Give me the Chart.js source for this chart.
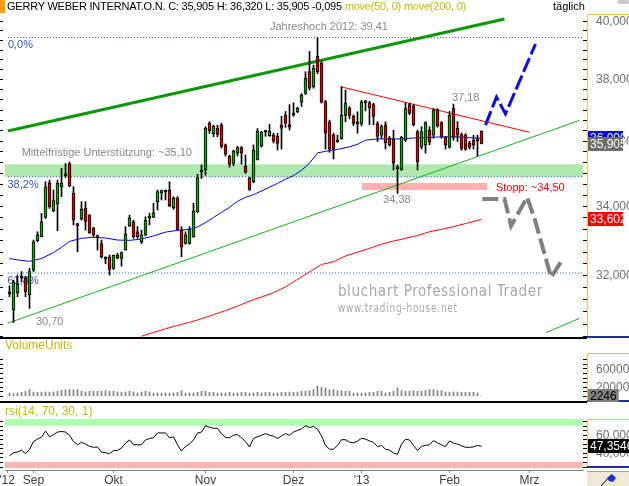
<!DOCTYPE html>
<html>
<head>
<meta charset="utf-8">
<script src="https://cdn.jsdelivr.net/npm/chart.js@4.4.1/dist/chart.umd.min.js"></script>
<style>
  html, body { margin: 0; padding: 0; background: #fff; }
  #wrap { position: relative; width: 629px; height: 486px; overflow: hidden; background: #fff;
          font-family: "Liberation Sans", Arial, sans-serif; }
  canvas { position: absolute; left: 0; }
  .txt { position: absolute; white-space: nowrap; font-size: 11px; line-height: 13px; color: #000; }
  .head { letter-spacing: -0.22px; }
  .olive { color: #bdbd00; }
  .sep { position: absolute; left: 0; width: 587px; height: 2px; background: #000; }
</style>
</head>
<body>
<div id="wrap">
  <canvas id="mainChart" width="629" height="338" style="top:0"></canvas>
  <canvas id="volChart" width="629" height="64" style="top:338px"></canvas>
  <canvas id="rsiChart" width="629" height="84" style="top:402px"></canvas>

  <div style="position:absolute;left:0;top:0;width:5px;height:13px;background:#ff9c00"></div>
  <div class="txt head" style="left:7px;top:0">GERRY WEBER INTERNAT.O.N. C: 35,905 H: 36,320 L: 35,905 -0,095 <span class="olive">move(50, 0) move(200, 0)</span></div>
  <div class="txt" style="left:553px;top:0">täglich</div>
  <div style="position:absolute;left:617px;top:0;width:12px;height:4px;background:#c8c8c8;border-radius:2px"></div>

  <div class="sep" style="top:337px"></div>
  <div class="sep" style="top:401px"></div>
  <div class="txt olive" style="left:5px;top:339px;font-size:12px">VolumeUnits</div>
  <div class="txt olive" style="left:5px;top:405px;font-size:12px">rsi(14, 70, 30, 1)</div>

  <div style="position:absolute;left:587px;top:471px;width:42px;height:15px;background:#ece9d8;border-top:1px solid #a0a0a0">
    <svg width="42" height="15"><line x1="14" y1="14" x2="24" y2="3" stroke="#000" stroke-width="1"/><polygon points="20,6 25,2 29,6 26,10 22,9" fill="#1030e0"/></svg>
  </div>
</div>

<script>
// ---- price data (one entry per trading day, 24 Aug 2012 .. 13 Feb 2013) ----
const OPEN = [31.48,31.04,31.51,31.92,31.91,31.45,32.14,32.98,33.09,33.66,
  34.70,33.86,34.06,34.58,34.92,35.29,34.38,33.46,33.62,33.93,
  33.72,33.34,33.10,32.90,32.45,32.52,32.19,32.57,32.47,32.71,
  33.42,33.53,33.24,32.95,33.15,33.64,33.66,34.13,34.40,34.42,
  34.48,33.95,34.23,33.29,32.90,32.90,33.10,33.83,35.03,35.09,
  36.56,36.23,36.40,36.51,35.87,35.52,35.29,35.61,35.79,35.20,
  34.85,34.73,35.40,35.84,36.28,36.16,36.18,36.15,36.50,36.81,
  36.52,36.82,36.93,37.24,37.53,38.25,37.75,38.77,38.53,37.26,
  36.59,36.18,35.97,36.07,36.81,37.04,36.78,36.54,36.55,37.22,
  37.22,37.16,36.55,36.18,36.51,36.08,36.05,35.13,35.11,36.02,
  37.16,37.12,36.29,35.80,35.87,36.34,36.18,36.99,36.58,36.11,
  35.80,37.03,36.40,36.20,36.18,35.93,36.02,36.04,36.30];
const HIGH = [31.70,31.86,32.00,32.10,31.96,32.19,33.00,33.24,33.78,34.73,
  34.78,34.48,34.78,35.14,35.29,35.34,34.58,33.49,34.13,34.13,
  33.75,33.37,33.15,33.00,32.52,32.57,32.57,32.62,32.66,33.39,
  33.73,33.58,33.39,33.29,33.68,33.78,34.08,34.48,34.48,34.48,
  34.73,34.28,34.28,33.39,33.24,33.39,34.08,34.96,35.25,36.45,
  36.61,36.50,36.50,36.56,35.90,35.55,35.71,35.83,35.82,35.56,
  34.87,35.87,36.39,36.30,36.32,36.52,36.24,36.24,36.78,36.94,
  37.16,37.22,37.08,37.52,38.25,38.94,38.47,39.41,38.60,37.30,
  36.66,36.24,36.18,37.75,37.64,37.10,36.83,36.93,37.30,37.30,
  37.27,37.21,36.61,36.51,36.61,36.14,36.34,35.24,36.14,37.22,
  37.21,37.16,36.34,36.45,36.61,36.45,37.03,37.03,36.61,36.14,
  36.94,37.18,36.61,36.25,36.23,35.99,36.18,36.18,36.32];
const LOW = [31.40,30.70,31.40,31.81,31.40,31.08,32.10,32.95,33.09,33.63,
  33.93,33.83,33.27,34.28,34.86,34.58,33.44,32.66,33.58,33.29,
  33.19,33.10,32.71,32.48,32.32,32.00,32.16,32.46,32.25,32.71,
  33.39,33.05,33.05,32.90,33.12,33.44,33.66,33.88,34.18,34.18,
  33.98,33.90,33.29,32.52,32.88,32.88,33.08,33.80,34.83,34.93,
  36.23,36.13,36.13,35.77,35.52,35.18,35.22,35.52,35.27,34.99,
  34.47,34.70,35.40,35.80,36.14,36.14,35.93,35.71,35.74,36.43,
  36.34,36.78,36.90,37.10,37.49,37.64,37.70,38.18,37.21,35.74,
  35.64,35.43,35.95,36.05,36.61,36.70,36.48,36.24,36.48,36.96,
  36.51,36.51,35.98,36.08,35.74,35.83,35.09,34.38,35.08,35.98,
  36.83,36.47,35.09,35.74,35.61,35.87,36.08,36.43,36.08,35.74,
  35.77,36.02,35.98,35.70,35.70,35.74,35.74,35.52,35.905];
const CLOSE = [31.50,31.81,31.75,31.95,31.54,32.10,32.95,33.15,33.53,34.58,
  33.98,34.16,34.68,34.70,34.95,34.60,33.58,33.42,33.90,33.54,
  33.21,33.15,33.07,32.52,32.47,32.16,32.57,32.49,32.64,33.17,
  33.65,33.10,33.10,33.15,33.58,33.67,33.80,34.43,34.42,34.44,
  34.00,34.23,33.31,32.80,33.15,33.31,33.85,34.86,35.05,36.40,
  36.32,36.47,36.20,35.82,35.58,35.27,35.67,35.79,35.61,35.02,
  34.50,35.71,36.31,36.27,36.30,36.31,35.99,35.92,36.39,36.55,
  36.43,36.84,37.04,37.48,38.03,37.70,38.36,38.25,37.24,36.24,
  35.74,35.74,36.02,36.81,37.22,36.81,36.55,36.57,37.24,37.25,
  37.06,36.78,36.14,36.45,35.93,35.87,35.30,35.15,36.11,37.03,
  36.88,36.51,35.35,36.29,36.58,35.96,36.99,36.47,36.14,35.87,
  36.81,36.11,36.18,35.76,35.74,35.80,35.87,36.00,35.905];

const VOLUME = [65000,51000,65000,80000,101000,138000,87000,80000,87000,87000,
  87000,87000,101000,123000,138000,138000,138000,138000,101000,87000,
  101000,101000,101000,101000,116000,101000,101000,87000,87000,87000,
  101000,87000,65000,87000,101000,87000,65000,65000,65000,65000,
  65000,65000,80000,116000,65000,65000,65000,80000,101000,101000,
  80000,80000,65000,65000,65000,80000,65000,65000,80000,80000,
  65000,65000,80000,65000,80000,80000,65000,65000,80000,80000,
  87000,80000,87000,101000,101000,116000,138000,220000,188000,174000,
  138000,138000,116000,116000,101000,101000,65000,65000,65000,65000,
  80000,80000,101000,101000,65000,80000,101000,174000,116000,101000,
  101000,116000,101000,101000,116000,138000,138000,116000,116000,87000,
  87000,87000,87000,80000,80000,80000,80000,65000,2246];

const RSI = [36.8,40.3,41.0,43.1,39.2,43.8,52.5,55.3,57.4,64.1,
  57.8,60.2,63.0,63.7,63.0,59.5,52.5,49.0,51.8,49.7,
  47.3,46.2,46.6,41.0,40.3,39.2,42.7,42.7,45.5,50.8,
  54.3,49.0,49.0,49.0,54.3,56.0,56.7,62.0,62.0,62.0,
  56.7,57.8,49.0,42.0,47.3,49.7,54.3,62.0,63.0,70.0,
  68.3,67.2,67.2,61.3,57.1,56.7,59.5,60.2,56.7,52.5,
  46.6,56.0,57.8,59.5,61.3,59.5,58.5,56.0,58.8,61.3,
  59.5,63.0,64.8,66.5,70.0,68.0,69.2,66.2,59.0,48.3,
  44.1,44.1,48.3,54.6,54.6,51.8,51.1,53.2,56.0,55.3,
  53.2,51.8,46.9,48.3,44.1,43.1,39.9,38.5,49.7,55.0,
  54.3,48.3,42.7,47.3,48.3,49.0,53.6,51.1,49.0,46.9,
  53.2,50.8,49.7,48.0,46.2,46.2,46.6,48.3,47.3546];

// moving averages, read as [day index, value]
const MA50 = [[0,32.47],[2,32.43],[5,32.39],[8,32.47],[11,32.64],[13,32.79],[15,32.96],[18,33.05],
  [21,33.08],[24,33.06],[27,33.00],[30,32.99],[33,33.03],[36,33.12],[39,33.23],[42,33.28],[45,33.31],
  [47,33.38],[49,33.51],[51,33.66],[53,33.81],[55,33.96],[57,34.14],[59,34.26],[61,34.34],[63,34.45],
  [65,34.57],[67,34.68],[69,34.81],[71,34.92],[73,35.08],[75,35.30],[77,35.62],[79,35.67],[82,35.73],
  [85,35.81],[87,35.89],[89,36.02],[92,36.06],[95,36.06],[98,36.06],[101,36.09],[104,36.10],
  [107,36.12],[110,36.13],[113,36.12],[116,36.09],[118,36.09]];
const MA200 = [[33,30.33],[36,30.43],[39,30.53],[42,30.62],[45,30.70],[48,30.80],[51,30.91],[54,31.02],
  [57,31.14],[60,31.28],[63,31.39],[66,31.51],[69,31.67],[72,31.88],[75,32.09],[78,32.30],[81,32.38],
  [84,32.54],[87,32.65],[90,32.76],[93,32.88],[96,32.97],[99,33.05],[102,33.13],[105,33.24],
  [108,33.31],[111,33.39],[114,33.48],[118,33.602]];

// drawn lines: channel, resistance, forecasts ([day index, value])
const UPPER_CHANNEL = [[-0.4,36.31],[123.75,40.06]];
const LOWER_CHANNEL = [[-0.4,30.68],[142.5,36.65]];
const LOWER_CHANNEL_2 = [[134.2,30.43],[142.5,30.81]];
const RESISTANCE = [[82.75,37.75],[130,36.27]];
const FORECAST_UP = [[119,36.50],[121.75,37.41],[124,36.86],[131.5,39.19]];
const FORECAST_DOWN = [[118.2,34.21],[123.75,34.21],[125.4,33.41],[129.4,34.26],[131.25,33.63],[135.4,31.94],[138.2,32.43]];

const FIB_LEVELS = [39.41, 34.88, 32.06];
const SUPPORT_BAND = [34.88, 35.27];
const STOP_BAND = [34.48, 34.69];
const STOP_BAND_DAYS = [88, 119.5];
const RSI_ZONES = { high: [70, 77.4], low: [23.4, 30] };

const MONTH_TICKS = [-0.6, 6, 26, 49, 71, 88, 110, 130];
const MONTH_LABELS = ["'12", "Sep", "Okt", "Nov", "Dez", "'13", "Feb", "Mrz"];
const PRICE_LABELS = [40, 38, 36, 34, 32];
const VOLUME_LABELS = [600000, 200000];
const RSI_LABELS = [60, 40];

const ANNOTATIONS = [
  { text: 'Jahreshoch 2012: 39,41', i: 65.1, v: 39.78, kind: 'note' },
  { text: '0,0%', i: -0.4, v: 39.16, kind: 'fib' },
  { text: '37,18', i: 110.6, v: 37.38, kind: 'note' },
  { text: 'Mittelfristige Unterstützung: ~35,10', i: 3.05, v: 35.62, kind: 'note' },
  { text: '38,2%', i: -0.5, v: 34.63, kind: 'fib' },
  { text: '61,8%', i: -0.5, v: 31.83, kind: 'fib' },
  { text: '30,70', i: 6.6, v: 30.71, kind: 'note' },
  { text: '34,38', i: 93.4, v: 34.18, kind: 'note' },
  { text: 'Stopp: ~34,50', i: 121.6, v: 34.53, kind: 'stop' },
  { text: 'bluchart Professional Trader', i: 82.1, v: 31.54, kind: 'brand' },
  { text: 'www.trading-house.net', i: 82.1, v: 31.08, kind: 'url' },
];

// ---- helpers ----
const X_MIN = -1.125, X_MAX = 143.375;
const FONT = '"Liberation Sans", Arial, sans-serif';
const days = OPEN.map((_, i) => i);
const pts = arr => arr.map(([x, y]) => ({ x, y }));
const hline = (v, a, b) => [{ x: a, y: v }, { x: b, y: v }];
const fmt = (v, d) => v.toFixed(d).replace('.', ',');
const last = arr => arr[arr.length - 1];

const ANN_STYLE = {
  note:  { font: '11px ' + FONT, color: '#888888' },
  fib:   { font: '11px ' + FONT, color: '#3050c8' },
  stop:  { font: '11px ' + FONT, color: '#ff0000' },
  brand: { font: '16px "DejaVu Sans Condensed", "DejaVu Sans", sans-serif', color: '#a8a8a8', maxWidth: 205, spacing: '0.6px' },
  url:   { font: '12px "DejaVu Sans Condensed", "DejaVu Sans", sans-serif', color: '#a8a8a8', maxWidth: 120, spacing: '1px' },
};

function lineSet(data, color, width, extra) {
  return Object.assign({
    type: 'line', data, borderColor: color, borderWidth: width,
    pointRadius: 0, tension: 0, fill: false, order: 10
  }, extra || {});
}

function axisPlugin(id, cfg) {
  return {
    id,
    afterDraw(chart) {
      const { ctx, chartArea: a } = chart;
      const y = chart.scales.y;
      const ax = a.right + 4;
      const top = a.top + cfg.boxTop, bottom = a.bottom + cfg.boxBottom;
      ctx.save();
      ctx.fillStyle = '#f2c445';
      ctx.fillRect(ax, top, 1, bottom - top);
      ctx.fillRect(ax, top, chart.width - ax, 1);
      ctx.fillStyle = '#1a2f9c';
      ctx.fillRect(ax, bottom - 1, chart.width - ax, 2);
      ctx.fillStyle = '#000';
      cfg.ticks.forEach(v => {
        const py = Math.round(y.getPixelForValue(v));
        if (py < a.top || py > a.bottom) return;
        ctx.fillRect(ax - 4, py, 4, 1);
        ctx.fillRect(0, py, 3, 1);
      });
      ctx.font = '12px ' + FONT;
      ctx.textBaseline = 'middle';
      ctx.fillStyle = '#6e6e6e';
      cfg.labels.forEach(v => ctx.fillText(cfg.fmt(v), ax + 9, y.getPixelForValue(v) + 1));
      cfg.boxes.forEach(b => {
        const py = Math.round(y.getPixelForValue(b.v));
        const w = b.w || ctx.measureText(b.text).width + 4;
        ctx.fillStyle = b.bg;
        ctx.fillRect(ax + 1, py - 7, w, 14);
        ctx.fillStyle = b.fg;
        ctx.fillText(b.text, ax + 3, py + 1);
      });
      ctx.restore();
    }
  };
}

const annotationPlugin = {
  id: 'annotations',
  beforeDatasetsDraw(chart) {
    const { ctx } = chart;
    const xs = chart.scales.x, ys = chart.scales.y;
    ctx.save();
    ctx.textBaseline = 'middle';
    ANNOTATIONS.forEach(an => {
      const st = ANN_STYLE[an.kind];
      ctx.font = st.font;
      ctx.fillStyle = st.color;
      ctx.letterSpacing = st.spacing || '0px';
      const px = xs.getPixelForValue(an.i), py = ys.getPixelForValue(an.v);
      if (st.maxWidth) ctx.fillText(an.text, px, py, st.maxWidth);
      else ctx.fillText(an.text, px, py);
    });
    ctx.restore();
  }
};

const baseOptions = (padding) => ({
  responsive: false,
  animation: false,
  devicePixelRatio: 1,
  events: [],
  layout: { padding },
  plugins: { legend: { display: false }, tooltip: { enabled: false } },
});

// ---- main price chart ----
const candleColor = days.map(i => CLOSE[i] >= OPEN[i] ? '#10a810' : '#e00000');
const priceTicks = Array.from({ length: 31 }, (_, k) => (91 + k) / 3);

new Chart(document.getElementById('mainChart'), {
  type: 'bar',
  data: {
    datasets: [
      lineSet(hline(SUPPORT_BAND[1], X_MIN, X_MAX), 'rgba(0,0,0,0)', 0,
        { fill: { value: SUPPORT_BAND[0] }, backgroundColor: '#aee8ae', order: 30 }),
      lineSet(hline(STOP_BAND[1], STOP_BAND_DAYS[0], STOP_BAND_DAYS[1]), 'rgba(0,0,0,0)', 0,
        { fill: { value: STOP_BAND[0] }, backgroundColor: '#ffb0b0', order: 30 }),
      ...FIB_LEVELS.map(v => lineSet(hline(v, -0.4, X_MAX), '#2848c8', 1, { borderDash: [1, 2], order: 25 })),
      lineSet(pts(UPPER_CHANNEL), '#0a980a', 3, { order: 20 }),
      lineSet(pts(LOWER_CHANNEL), '#10b810', 1, { order: 20 }),
      lineSet(pts(LOWER_CHANNEL_2), '#10b810', 1, { order: 20 }),
      lineSet(pts(RESISTANCE), '#ff0000', 1, { order: 20 }),
      lineSet(pts(MA200), '#ff0000', 1, { order: 15 }),
      lineSet(pts(MA50), '#0000ff', 1, { order: 15 }),
      {
        type: 'bar', data: days.map(i => ({ x: i, y: [LOW[i], HIGH[i]] })),
        backgroundColor: '#000', barThickness: 1, grouped: false, order: 6
      },
      {
        type: 'bar', data: days.map(i => ({ x: i, y: [OPEN[i], CLOSE[i]] })),
        backgroundColor: candleColor, borderColor: '#000', borderWidth: 1,
        borderSkipped: false, barThickness: 3, minBarLength: 2, grouped: false, order: 5
      },
      lineSet(pts(FORECAST_UP), '#0a0af0', 3, { borderDash: [15, 4], order: 1 }),
      lineSet(pts(FORECAST_DOWN), '#808080', 4, { borderDash: [16, 5], order: 1 }),
    ]
  },
  options: Object.assign(baseOptions({ left: 5, right: 46, top: 13, bottom: 1 }), {
    scales: {
      x: { type: 'linear', min: X_MIN, max: X_MAX, bounds: 'data', offset: false, display: false },
      y: { type: 'logarithmic', min: 30.31, max: 40.27, bounds: 'data', display: false }
    }
  }),
  plugins: [annotationPlugin, axisPlugin('priceAxis', {
    boxTop: 1, boxBottom: 0, ticks: priceTicks, labels: PRICE_LABELS, fmt: v => fmt(v, 3),
    boxes: [
      { v: last(MA50)[1], text: fmt(last(MA50)[1], 3), bg: '#0000ff', fg: '#fff', w: 35 },
      { v: last(CLOSE), text: fmt(last(CLOSE), 3), bg: '#6e6e6e', fg: '#fff', w: 35 },
      { v: last(MA200)[1], text: fmt(last(MA200)[1], 3), bg: '#ff0000', fg: '#fff', w: 35 },
    ]
  })]
});

// ---- volume ----
new Chart(document.getElementById('volChart'), {
  type: 'bar',
  data: {
    datasets: [{
      data: days.map(i => ({ x: i, y: VOLUME[i] })),
      backgroundColor: '#808080', barThickness: 1
    }]
  },
  options: Object.assign(baseOptions({ left: 5, right: 46, top: 15, bottom: 6 }), {
    scales: {
      x: { type: 'linear', min: X_MIN, max: X_MAX, bounds: 'data', offset: false, display: false },
      y: { type: 'linear', min: 0, max: 935000, bounds: 'data', display: false }
    }
  }),
  plugins: [axisPlugin('volAxis', {
    boxTop: 0, boxBottom: 5, ticks: Array.from({ length: 9 }, (_, k) => k * 100000),
    labels: VOLUME_LABELS, fmt: v => String(v),
    boxes: [{ v: last(VOLUME), text: String(last(VOLUME)), bg: '#808080', fg: '#000' }]
  })]
});

// ---- RSI ----
new Chart(document.getElementById('rsiChart'), {
  type: 'line',
  data: {
    datasets: [
      lineSet(hline(RSI_ZONES.high[1], X_MIN, X_MAX), 'rgba(0,0,0,0)', 0,
        { fill: { value: RSI_ZONES.high[0] }, backgroundColor: '#b0fcb0', order: 30 }),
      lineSet(hline(RSI_ZONES.low[0], X_MIN, X_MAX), 'rgba(0,0,0,0)', 0,
        { fill: { value: RSI_ZONES.low[1] }, backgroundColor: '#ffb4b4', order: 30 }),
      lineSet(days.map(i => ({ x: i, y: RSI[i] })), '#000', 1, { order: 1 }),
    ]
  },
  options: Object.assign(baseOptions({ left: 5, right: 46, top: 17, bottom: 0 }), {
    scales: {
      x: {
        type: 'linear', min: X_MIN, max: X_MAX, bounds: 'data', offset: false,
        afterBuildTicks: s => { s.ticks = MONTH_TICKS.map(v => ({ value: v })); },
        afterFit: s => { s.height = 16; s.paddingLeft = 0; s.paddingRight = 0; },
        grid: { drawOnChartArea: false, drawTicks: true, tickLength: 3, color: '#808080' },
        border: { display: true, color: '#808080' },
        ticks: {
          autoSkip: false, maxRotation: 0, padding: 0, color: '#404040',
          font: { family: FONT, size: 12 },
          callback: (v, idx) => MONTH_LABELS[idx]
        }
      },
      y: { type: 'linear', min: 21.2, max: 77.4, bounds: 'data', display: false }
    }
  }),
  plugins: [axisPlugin('rsiAxis', {
    boxTop: 0, boxBottom: -3, ticks: [25, 30, 35, 40, 45, 50, 55, 60, 65, 70, 75],
    labels: RSI_LABELS, fmt: v => fmt(v, 4),
    boxes: [{ v: last(RSI), text: fmt(last(RSI), 4), bg: '#000', fg: '#fff', w: 42 }]
  })]
});
</script>
</body>
</html>
